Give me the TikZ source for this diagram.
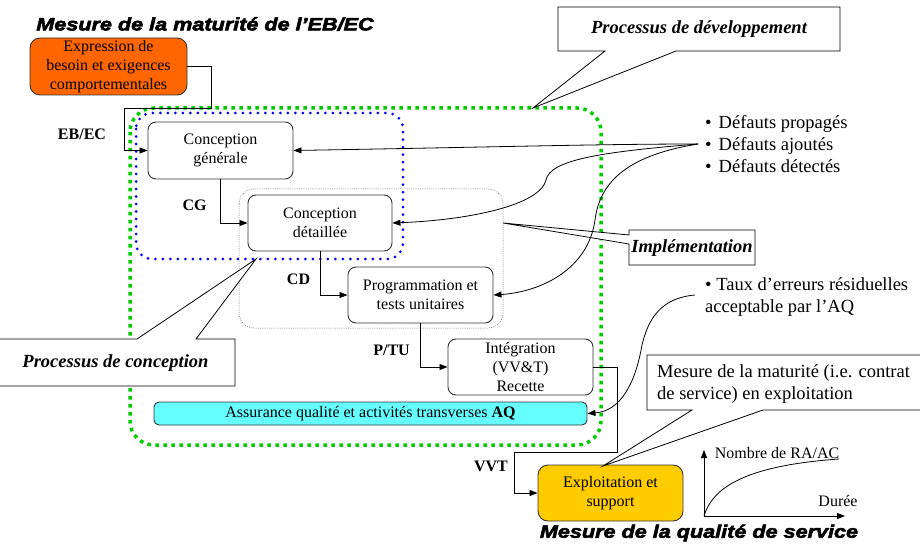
\documentclass[tikz,border=0pt]{standalone}
\usepackage{fontspec}
\setmainfont{Liberation Serif}
\newfontfamily\headfont{Liberation Sans}[BoldItalicFeatures={FakeBold=3,FakeStretch=1.2}]
\usetikzlibrary{arrows.meta,calc}

\definecolor{exprfill}{HTML}{FF6600}
\definecolor{explfill}{HTML}{FFCC00}
\definecolor{aqfill}{HTML}{66FFFF}
\definecolor{devgreen}{HTML}{00CC00}
\definecolor{concblue}{HTML}{0000FF}

\tikzset{
  procbox/.style={draw=black!80, line width=0.9pt, rounded corners=8pt, align=center,
    inner sep=0pt, font=\fontsize{16}{19}\selectfont},
  arr/.style={-{Triangle[length=8pt,width=6pt]}, line width=0.8pt},
  wire/.style={line width=0.8pt},
  lbl/.style={font=\fontsize{16}{19}\selectfont\bfseries, inner sep=0pt},
  calltxt/.style={font=\fontsize{18.5}{22}\selectfont\bfseries\itshape, inner sep=0pt},
  callout/.style={draw=black, line width=0.8pt, fill=white},
  bigtxt/.style={font=\fontsize{18.5}{22}\selectfont, inner sep=0pt, align=left},
  headtxt/.style={font=\fontsize{18}{20}\headfont\bfseries\itshape, inner sep=0pt},
  greenzone/.style={draw=devgreen, line width=3.5pt, dash pattern=on 3.5pt off 4.5pt, rounded corners=24pt},
  bluezone/.style={draw=concblue, line width=3pt, line cap=round, dash pattern=on 0pt off 7.5pt, rounded corners=16pt},
  implzone/.style={draw=black!60, line width=0.5pt, dash pattern=on 1pt off 1.2pt, rounded corners=15pt}
}

\begin{document}
\begin{tikzpicture}[x=1pt,y=-1pt]
\useasboundingbox (0,0) rectangle (920,545);

% process zones
\draw[greenzone] (130,108) rectangle (601,445);
\draw[bluezone] (136,113) rectangle (403,259);
\draw[implzone] (239,189) rectangle (503,328);

% titles
\node[headtxt] (t1) at (205,24) {Mesure de la maturité de l’EB/EC};
\node[headtxt] (t2) at (699,533) {Mesure de la qualité de service};

% process boxes
\node[procbox, fill=exprfill, rounded corners=10pt, minimum width=157pt, minimum height=57pt] (expr) at (108.5,66.5)
  {Expression de\\besoin et exigences\\comportementales};
\node[procbox, minimum width=145pt, minimum height=57pt] (cg) at (220.5,150.5) {Conception\\générale};
\node[procbox, minimum width=144pt, minimum height=56pt] (cd) at (320,223) {Conception\\détaillée};
\node[procbox, minimum width=145pt, minimum height=56pt] (ptu) at (420.5,295) {Programmation et\\tests unitaires};
\node[procbox, minimum width=145pt, minimum height=56pt] (integ) at (520.5,367) {Intégration\\(VV\&T)\\Recette};
\node[procbox, fill=aqfill, rounded corners=5pt, minimum width=433pt, minimum height=23pt] (aq) at (370.5,413.5)
  {Assurance qualité et activités transverses \textbf{AQ}};
\node[procbox, fill=explfill, rounded corners=10pt, minimum width=145pt, minimum height=56pt] (expl) at (610.5,493)
  {Exploitation et\\support};

% flow between phases
\draw[arr] (expr.east) -- (211,66.5) -- (211,108) -- (124,108) |- (cg.west);
\draw[arr] (cg.south) |- (cd.west);
\draw[arr] (cd.south) |- (ptu.west);
\draw[arr] (ptu.south) |- (integ.west);
\draw[arr] (integ.east) -- (617,367) -- (617,452) -- (514,452) |- (expl.west);

\node[lbl] (l1) at (82,134) {EB/EC};
\node[lbl] (l2) at (194.5,205) {CG};
\node[lbl] (l3) at (298.5,279) {CD};
\node[lbl] (l4) at (391.5,350) {P/TU};
\node[lbl] (l5) at (491,466) {VVT};

% callouts
\draw[callout] (558,7) -- (840,7) -- (840,51) -- (676,51) -- (533,108) -- (605,51) -- (558,51) -- cycle;
\node[calltxt] (dev) at (699,29) {Processus de développement};

\draw[callout] (-2,339) -- (137,339) -- (256,259) -- (196,339) -- (235,339) -- (235,386) -- (-2,386) -- cycle;
\node[calltxt] (conc) at (115.5,363) {Processus de conception};

\draw[callout] (629,230) -- (755,230) -- (755,265) -- (629,265) -- (629,244) -- (503,223) -- (629,235) -- cycle;
\node[calltxt] (impl) at (692,248) {Implémentation};

\draw[callout] (647,355) -- (925,355) -- (925,410) -- (763,410) -- (603,466) -- (692,410) -- (647,410) -- cycle;
\node[bigtxt, anchor=west] (mat) at (657,384) {Mesure de la maturité (i.e. contrat\\de service) en exploitation};

% defects feeding back into the phases
\node[bigtxt, anchor=west] (defs) at (705,146) {%
  \begin{tabular}{@{}l@{\hspace{7pt}}l@{}}
  \textbullet & Défauts propagés\\
  \textbullet & Défauts ajoutés\\
  \textbullet & Défauts détectés
  \end{tabular}};
\coordinate (src) at (698,144);
\draw[arr] (src) .. controls (600,144) and (500,147) .. (cg.east);
\draw[arr] (src) .. controls (600,152) and (550,160) .. (546,180)
  .. controls (540,205) and (470,220) .. (cd.east);
\draw[arr] (src) .. controls (630,155) and (600,180) .. (595,220)
  .. controls (588,270) and (540,292) .. (ptu.east);

% residual error rate accepted by quality assurance
\node[bigtxt, anchor=west] (taux) at (705,297) {\textbullet\ Taux d’erreurs résiduelles\\acceptable par l’AQ};
\coordinate (tsrc) at (695,295);
\draw[arr] (tsrc) .. controls (660,298) and (648,320) .. (642,345)
  .. controls (635,385) and (620,411) .. (aq.east);

% service quality curve
\coordinate (o) at (704,516);
\draw[arr] (o) -- (704,450);
\draw[arr] (o) -- (845,516);
\draw[wire] (o) .. controls (712,490) and (740,466) .. (839,459);
\node[font=\fontsize{16}{19}\selectfont, inner sep=0pt] (ny) at (777,453) {Nombre de RA/AC};
\node[font=\fontsize{16}{19}\selectfont, inner sep=0pt] (nx) at (838,501) {Durée};
\end{tikzpicture}
\end{document}
